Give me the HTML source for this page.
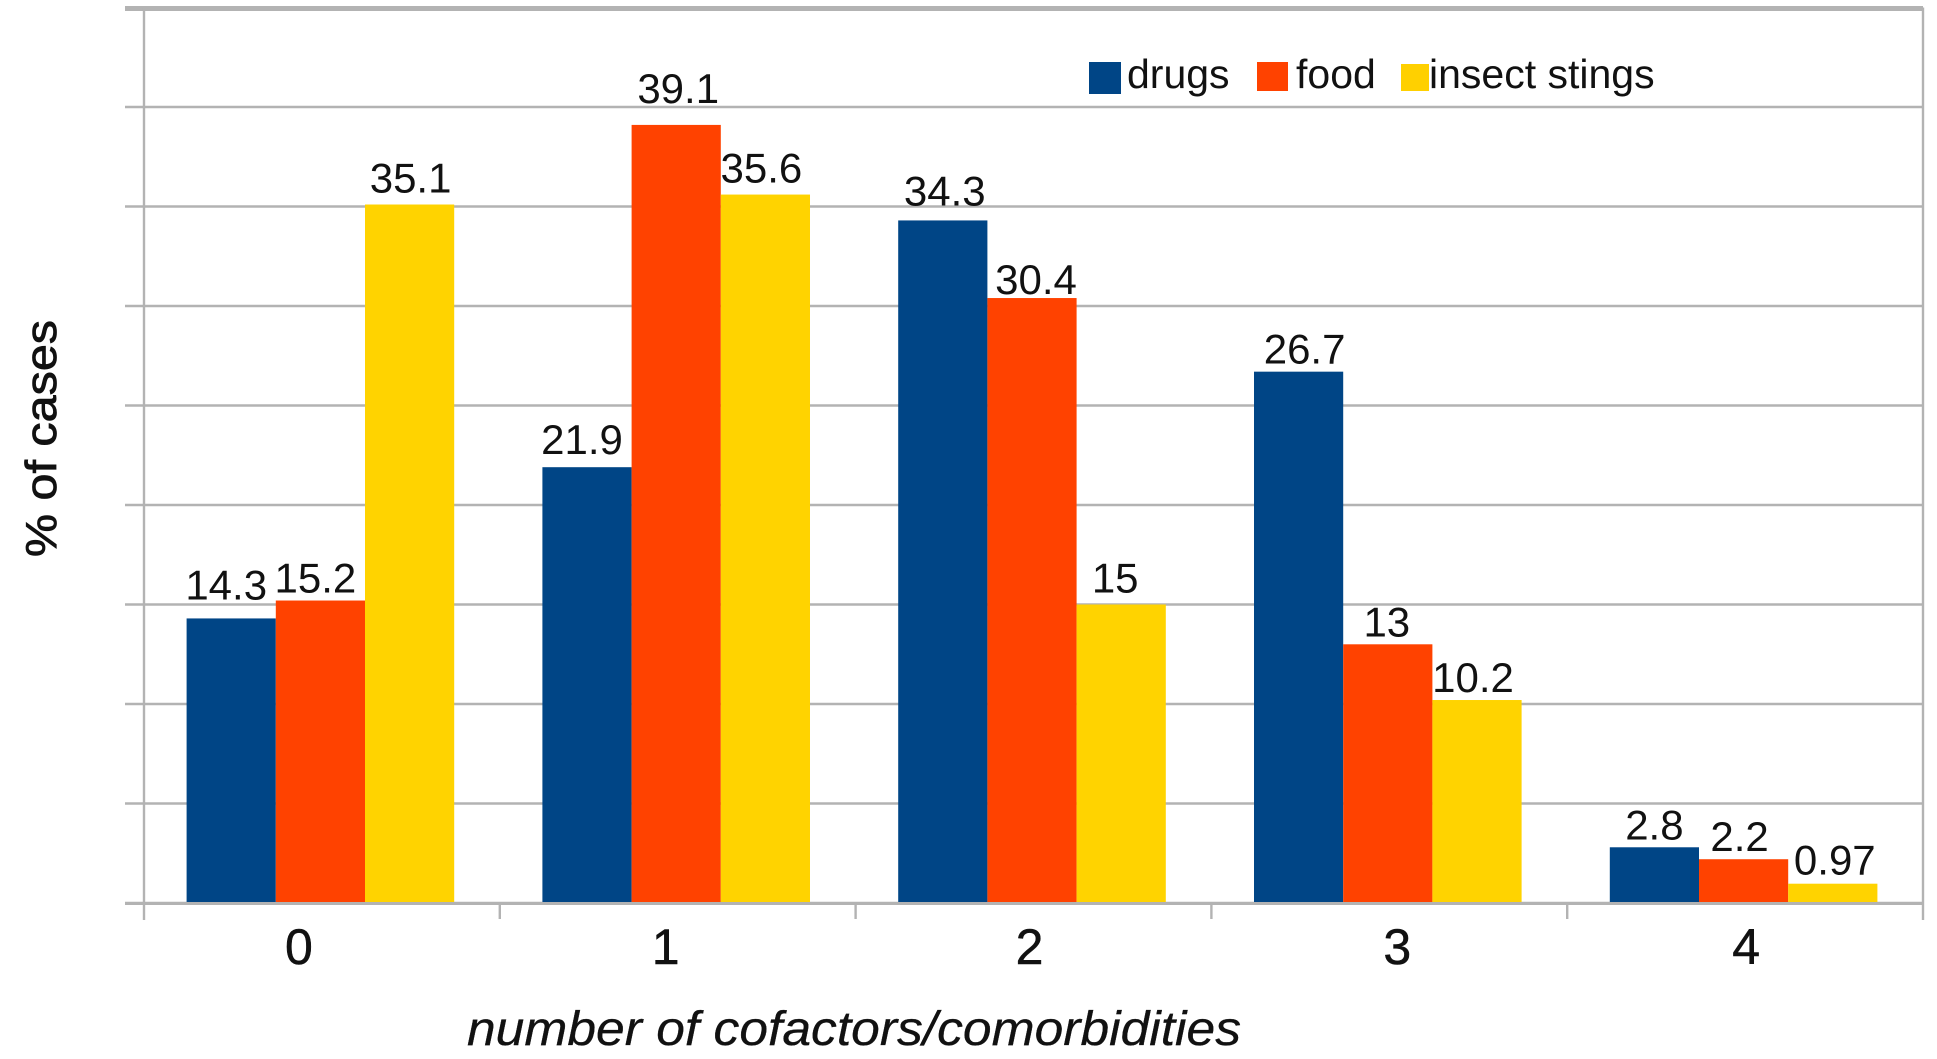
<!DOCTYPE html>
<html lang="en">
<head>
<meta charset="utf-8">
<title>Cofactors and comorbidities chart</title>
<style>
  html, body { margin: 0; padding: 0; background: #fff; }
  svg { display: block; }
  text { font-family: "Liberation Sans", sans-serif; fill: #111; }
</style>
</head>
<body>
<svg id="chart" xmlns="http://www.w3.org/2000/svg" width="1937" height="1059" viewBox="0 0 1937 1059">
  <g id="grid"></g>
  <g id="bars"></g>
  <g id="axes"></g>
  <g id="values"></g>
  <g id="cats"></g>
  <text transform="translate(56,557) rotate(-90)" font-size="44" stroke="#111" stroke-width="0.8" textLength="237" lengthAdjust="spacingAndGlyphs">% of cases</text>
  <text x="467" y="1045" font-size="48" font-style="italic" stroke="#111" stroke-width="0.3" textLength="774" lengthAdjust="spacingAndGlyphs">number of cofactors/comorbidities</text>
  <g>
    <rect x="1089" y="62" width="32" height="32" fill="#004586"></rect>
    <text x="1127" y="88" font-size="41">drugs</text>
    <rect x="1257" y="62" width="31" height="29" fill="#ff4200"></rect>
    <text x="1296" y="88" font-size="41">food</text>
    <rect x="1401" y="64" width="28" height="27" fill="#ffd000"></rect>
    <text x="1429" y="88" font-size="41">insect stings</text>
  </g>
</svg>
<script>
const categories = ["0", "1", "2", "3", "4"];
const drugs = [14.3, 21.9, 34.3, 26.7, 2.8];
const food = [15.2, 39.1, 30.4, 13, 2.2];
const insectStings = [35.1, 35.6, 15, 10.2, 0.97];
const valueLabelsDrugs = ["14.3", "21.9", "34.3", "26.7", "2.8"];
const valueLabelsFood = ["15.2", "39.1", "30.4", "13", "2.2"];
const valueLabelsInsect = ["35.1", "35.6", "15", "10.2", "0.97"];
const yTicks = [0, 5, 10, 15, 20, 25, 30, 35, 40, 45];

const NS = "http://www.w3.org/2000/svg";
const plotLeft = 144, plotRight = 1923, baseY = 903, pxPerUnit = 19.9;
const groupPad = 42.6, barWidth = 89.2;
const seriesList = [
  { key: "drugs", values: drugs, labels: valueLabelsDrugs, color: "#004586" },
  { key: "food", values: food, labels: valueLabelsFood, color: "#ff4200" },
  { key: "insect-stings", values: insectStings, labels: valueLabelsInsect, color: "#ffd300" }
];
function yScale(v) { return baseY - v * pxPerUnit; }
function bandStart(i) { return plotLeft + i * (plotRight - plotLeft) / categories.length; }
function barX(i, s) { return bandStart(i) + groupPad + s * barWidth; }
function make(tag, attrs, parent) {
  const el = document.createElementNS(NS, tag);
  for (const k in attrs) el.setAttribute(k, attrs[k]);
  parent.appendChild(el);
  return el;
}
const gridG = document.getElementById("grid");
const barsG = document.getElementById("bars");
const axesG = document.getElementById("axes");
const valuesG = document.getElementById("values");
const catsG = document.getElementById("cats");
const LINE = "#b3b3b3";

yTicks.forEach(function (t, idx) {
  const isTop = idx === yTicks.length - 1;
  const lineY = yScale(t) + (isTop ? 1 : 0);
  const line = make("line", { x1: 125, x2: plotRight, y1: lineY, y2: lineY, stroke: LINE, "stroke-width": isTop ? 5 : 2.4 }, gridG);
  
  
});

seriesList.forEach(function (s, si) {
  // small hand-placement offsets of the printed labels relative to their bars
  const shiftX = [[-5, -5, 2, 6, 0], [-5, 2, 4, -1, -4], [1, -4, -6, -4, 2]][si];
  const shiftY = [[-11, -5, -7, 0, 0], [0, -14, 4, 0, 0], [-4, -4, -4, 0, -1]][si];
  s.values.forEach(function (v, i) {
    const bar = make("rect", { x: barX(i, si), y: yScale(v), width: barWidth, height: baseY - yScale(v), fill: s.color }, barsG);
    
    
    const label = make("text", { x: barX(i, si) + barWidth / 2 + shiftX[i], y: yScale(v) - 8 + shiftY[i], "font-size": 42, "text-anchor": "middle" }, valuesG);
    label.textContent = s.labels[i];
    
    
  });
});

const leftAxis = make("line", { x1: plotLeft, x2: plotLeft, y1: yScale(45), y2: 920, stroke: LINE, "stroke-width": 2.4 }, axesG);


const rightFrame = make("line", { x1: plotRight, x2: plotRight, y1: yScale(45), y2: 920, stroke: LINE, "stroke-width": 2.4 }, axesG);


const baseAxis = make("line", { x1: 125, x2: plotRight, y1: baseY + 0.5, y2: baseY + 0.5, stroke: LINE, "stroke-width": 3 }, axesG);



categories.forEach(function (c, i) {
  if (i > 0) {
    const tick = make("line", { x1: bandStart(i), x2: bandStart(i), y1: baseY, y2: 919, stroke: LINE, "stroke-width": 2.4 }, axesG);
    
    
  }
  const nudge = i === 0 ? -23 : i === 1 ? -12 : i === 2 ? -4 : i === 3 ? 8 : 1;
  const label = make("text", { x: bandStart(i + 0.5) + nudge, y: 964, "font-size": 50, "text-anchor": "middle", stroke: "#111", "stroke-width": 0.5 }, catsG);
  label.textContent = c;
  
  
});
</script>
</body>
</html>
